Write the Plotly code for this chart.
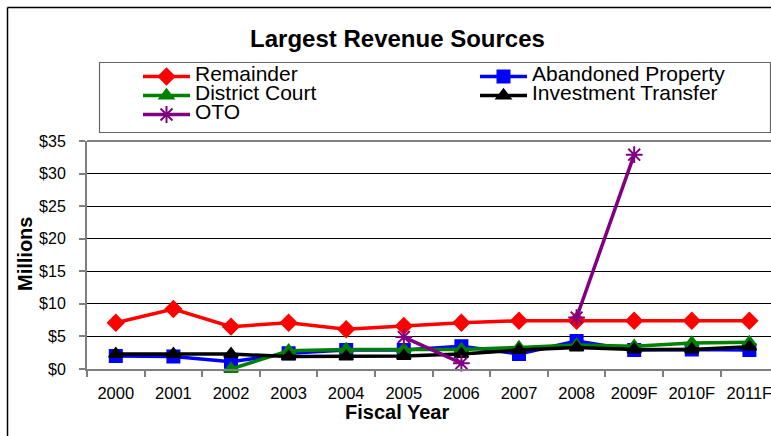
import plotly.graph_objects as go

# fiscal years and revenue series, $ millions
years = ["2000", "2001", "2002", "2003", "2004", "2005",
         "2006", "2007", "2008", "2009F", "2010F", "2011F"]
remainder = [7.1, 9.2, 6.5, 7.1, 6.1, 6.6, 7.1, 7.4, 7.4, 7.4, 7.4, 7.4]
abandoned_property = [2.0, 1.9, 1.1, 2.4, 2.9, 2.9, 3.5, 2.3, 4.3, 2.9, 3.0, 2.9]
district_court = [None, None, 0.0, 2.8, 3.0, 3.0, 3.0, 3.3, 3.7, 3.5, 4.0, 4.1]
investment_transfer = [2.3, 2.3, 2.3, 1.9, 1.9, 2.0, 2.3, 2.9, 3.3, 3.0, 3.0, 3.4]
oto = [None, None, None, None, None, 4.9, 0.9, None, 7.9, 32.9, None, None]

# name, values, colour, marker, marker size, legend column
series = [
    ("Remainder", remainder, "#ff0000", "diamond", 12, "legend"),
    ("Abandoned Property", abandoned_property, "#0000ff", "square", 12, "legend2"),
    ("District Court", district_court, "#008000", "triangle-up", 12, "legend"),
    ("Investment Transfer", investment_transfer, "#000000", "triangle-up", 12, "legend2"),
    ("OTO", oto, "#800080", "asterisk-open", 14, "legend"),
]

W, H = 771, 436
L, T, B = 87, 141, 67  # plot area in px
PW, PH = W - L, H - T - B


def px(x):
    return (x - L) / PW


def py(y):
    return (H - B - y) / PH


FONT = "Liberation Sans, Arial, sans-serif"

fig = go.Figure()
for name, vals, color, symbol, size, leg in series:
    fig.add_trace(go.Scatter(
        x=years, y=vals, mode="lines+markers",
        name=f"<span style='font-size:21px'>{name}</span>",
        legend=leg,
        line=dict(color=color, width=3.5),
        marker=dict(symbol=symbol, size=size, color=color,
                    line=dict(color=color, width=2)),
        cliponaxis=False, connectgaps=False,
    ))

gray = "#808080"
shapes = [
    # outer chart frame (clipped at right/bottom like the original)
    dict(type="line", xref="paper", yref="paper", x0=px(7.5), x1=px(800),
         y0=py(7.5), y1=py(7.5), line=dict(color="black", width=1.5)),
    dict(type="line", xref="paper", yref="paper", x0=px(7.5), x1=px(7.5),
         y0=py(7.5), y1=py(460), line=dict(color="black", width=1.5)),
    # legend box
    dict(type="rect", xref="paper", yref="paper", x0=px(99.5), x1=px(770.5),
         y0=py(132.5), y1=py(62.5), line=dict(color="#666666", width=1.2)),
    # plot area top border
    dict(type="line", xref="paper", yref="paper", x0=0, x1=1, y0=1, y1=1,
         line=dict(color=gray, width=2)),
]

legend_style = dict(orientation="v", yanchor="top", xanchor="left",
                    font=dict(size=12), itemwidth=47,
                    bgcolor="rgba(0,0,0,0)", traceorder="normal")

fig.update_layout(
    width=W, height=H,
    margin=dict(l=L, r=0, t=T, b=B),
    paper_bgcolor="white", plot_bgcolor="white",
    font=dict(family=FONT, color="black"),
    title=dict(text="<b>Largest Revenue Sources</b>", font=dict(size=24),
               x=397.5 / W, xanchor="center", y=1 - 38.5 / H, yanchor="middle"),
    showlegend=True,
    legend=dict(x=px(138), y=py(62), **legend_style),
    legend2=dict(x=px(475), y=py(62), **legend_style),
    shapes=shapes,
    annotations=[
        dict(text="<b>Millions</b>", textangle=-90, xref="paper", yref="paper",
             x=px(25), y=py(254), xanchor="center", yanchor="middle",
             showarrow=False, font=dict(size=20)),
        dict(text="<b>Fiscal Year</b>", xref="paper", yref="paper",
             x=px(397), y=py(412), xanchor="center", yanchor="middle",
             showarrow=False, font=dict(size=20)),
    ],
)
fig.update_xaxes(
    type="category", range=[-0.5, -0.5 + PW / 57.6],
    tickson="boundaries", ticks="outside", ticklen=6, tickcolor=gray, tickwidth=1.5,
    showline=True, linecolor=gray, linewidth=2, showgrid=False, zeroline=False,
    tickfont=dict(size=16.5), ticklabelstandoff=8,
)
fig.update_yaxes(
    range=[0, 35], dtick=5, tickprefix="$",
    ticks="outside", ticklen=6, tickcolor=gray, tickwidth=1.5,
    showline=True, linecolor=gray, linewidth=2,
    showgrid=True, gridcolor="black", gridwidth=1, zeroline=False,
    tickfont=dict(size=16), ticklabelstandoff=10,
)

# page body margin would otherwise offset the chart by 8px
fig.write_html("out.html", config={"displayModeBar": False},
               post_script="document.body.style.margin = '0px';")
